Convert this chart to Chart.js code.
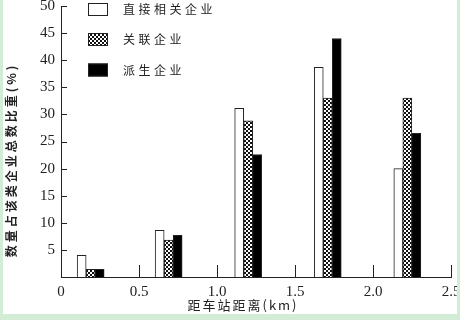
<!DOCTYPE html>
<html>
<head>
<meta charset="UTF-8">
<title>距车站距离</title>
<script src="https://cdn.jsdelivr.net/npm/chart.js@4/dist/chart.umd.min.js"></script>
<style>
  html, body { margin: 0; padding: 0; background: #fff; }
  canvas { display: block; }
</style>
</head>
<body>
<canvas id="chart" width="460" height="320"></canvas>
<script>
  // distance of each bar group (km) and share of enterprises (%)
  var distances = [0.19, 0.69, 1.2, 1.71, 2.22];
  var direct = [4.0, 8.6, 31.1, 38.7, 20.0];
  var related = [1.4, 6.8, 28.8, 33.0, 33.0];
  var derived = [1.4, 7.7, 22.6, 44.0, 26.5];
  var seriesNames = ['直接相关企业', '关联企业', '派生企业'];
  var xTicks = [0, 0.5, 1.0, 1.5, 2.0, 2.5];
  var yTicks = [5, 10, 15, 20, 25, 30, 35, 40, 45, 50];

  // dotted fill for 关联企业
  function dotPattern() {
    var c = document.createElement('canvas');
    c.width = 4; c.height = 4;
    var g = c.getContext('2d');
    g.fillStyle = '#fff';
    g.fillRect(0, 0, 4, 4);
    g.fillStyle = '#111';
    g.fillRect(0, 0, 2, 2);
    g.fillRect(2, 2, 2, 2);
    return g.createPattern(c, 'repeat');
  }
  var dots = dotPattern();

  function pts(vals) {
    return vals.map(function (v, i) { return { x: distances[i], y: v }; });
  }

  var decor = {
    id: 'decor',
    afterDraw: function (chart) {
      var ctx = chart.ctx;
      var xs = chart.scales.x, ys = chart.scales.y;
      var a = chart.chartArea;
      var x0 = Math.round(xs.getPixelForValue(0));
      var yb = Math.round(ys.getPixelForValue(0));
      ctx.save();
      ctx.fillStyle = '#222';
      // left axis line and inner ticks
      ctx.fillRect(x0, Math.round(a.top), 1, yb - Math.round(a.top) + 1);
      yTicks.forEach(function (v) {
        var y = Math.round(ys.getPixelForValue(v));
        ctx.fillRect(x0, y, 6, 1);
      });
      xTicks.forEach(function (v) {
        if (v === 0) return;
        var x = Math.round(xs.getPixelForValue(v));
        ctx.fillRect(x, yb - 12, 1, 12);
      });

      // legend
      ctx.font = '12px "Noto Sans CJK SC"';
      ctx.letterSpacing = '3.5px';
      ctx.textBaseline = 'middle';
      var rows = [9.5, 39.5, 70];
      chart.data.datasets.forEach(function (ds, i) {
        var y = rows[i];
        ctx.fillStyle = ds.backgroundColor;
        ctx.fillRect(88, y - 6.5, 20, 13);
        ctx.strokeStyle = '#222';
        ctx.lineWidth = 1;
        ctx.strokeRect(88.5, y - 6, 19, 12);
        ctx.fillStyle = '#222';
        ctx.fillText(ds.label, 123, y);
      });

      // axis titles
      ctx.font = '13px "Noto Sans CJK SC"';
      ctx.letterSpacing = '2px';
      ctx.textAlign = 'center';
      ctx.fillText('距车站距离(km)', 243, 305);
      ctx.save();
      ctx.translate(11, 160);
      ctx.rotate(-Math.PI / 2);
      ctx.font = 'bold 12px "Noto Sans CJK SC"';
      ctx.letterSpacing = '3px';
      ctx.fillText('数量占该类企业总数比重(%)', 0, 0);
      ctx.restore();

      // frame
      ctx.fillStyle = '#d3ecd6';
      ctx.fillRect(0, 0, 3, 320);
      ctx.fillRect(457, 0, 3, 320);
      ctx.fillRect(0, 314, 460, 6);
      ctx.restore();
    }
  };

  new Chart(document.getElementById('chart'), {
    type: 'bar',
    data: {
      datasets: [
        { label: seriesNames[0], data: pts(direct), backgroundColor: '#ffffff' },
        { label: seriesNames[1], data: pts(related), backgroundColor: dots },
        { label: seriesNames[2], data: pts(derived), backgroundColor: '#000000' }
      ]
    },
    options: {
      responsive: false,
      animation: false,
      devicePixelRatio: 1,
      layout: { padding: { top: 6, right: 9, left: 0, bottom: 0 } },
      datasets: {
        bar: { barThickness: 9, borderWidth: 1, borderColor: '#222', borderSkipped: 'bottom' }
      },
      plugins: { legend: { display: false }, tooltip: { enabled: false } },
      scales: {
        x: {
          type: 'linear',
          offset: false,
          min: 0, max: 2.5,
          afterBuildTicks: function (s) { s.ticks = xTicks.map(function (v) { return { value: v }; }); },
          afterFit: function (s) { s.height = 43; s.paddingLeft = 0; s.paddingRight = 0; },
          grid: { display: false, drawTicks: false, offset: false },
          border: { display: true, color: '#222', width: 1 },
          ticks: {
            padding: 6,
            color: '#222',
            maxRotation: 0,
            font: { family: 'Liberation Serif', size: 15 },
            callback: function (v) { return v === 0 ? '0' : v.toFixed(1); }
          }
        },
        y: {
          min: 0, max: 50,
          afterBuildTicks: function (s) { s.ticks = yTicks.map(function (v) { return { value: v }; }); },
          afterFit: function (s) { s.width = 61; s.paddingTop = 0; s.paddingBottom = 0; },
          grid: { display: false, drawTicks: false },
          border: { display: true, color: '#222', width: 1 },
          ticks: {
            padding: 6,
            color: '#222',
            font: { family: 'Liberation Serif', size: 15 }
          }
        }
      }
    },
    plugins: [decor]
  });
</script>
</body>
</html>
